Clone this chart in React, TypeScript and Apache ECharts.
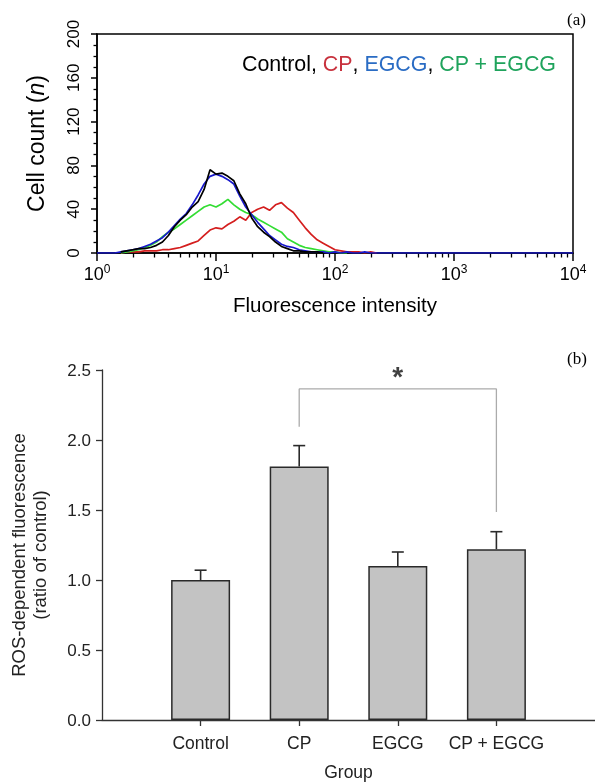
import React, { useEffect, useRef } from "react";
import * as echarts from "echarts";

// ---------- Panel (a): flow cytometry histograms ----------
// channel positions, in decades (log10 of fluorescence intensity)
const HIST_BINS_LOG = [
  0.15, 0.2, 0.25, 0.3, 0.35, 0.4, 0.45, 0.5, 0.55, 0.6,
  0.65, 0.7, 0.75, 0.8, 0.85, 0.9, 0.95, 1.0, 1.05, 1.1,
  1.15, 1.2, 1.25, 1.3, 1.35, 1.4, 1.45, 1.5, 1.55, 1.6,
  1.65, 1.7, 1.75, 1.8, 1.85, 1.9, 1.95, 2.0, 2.05, 2.1,
  2.15, 2.2, 2.25, 2.3, 2.35, 2.4,
];
const CONTROL_COUNTS = [
  null, 1, 2, 3, 4, 4, 5, 7, 10, 16,
  24, 30, 35, 42, 47, 58, 76, 72, 73, 70,
  66, 54, 45, 32, 24, 19, 15, 10, 6, 4,
  2, 2, 1, 1, 1, 0, null, null, null, null,
  null, null, null, null, null, null,
];
const CP_COUNTS = [
  null, 0, 1, 1, 1, 2, 2, 2, 3, 3,
  4, 5, 7, 9, 11, 16, 21, 23, 22, 26,
  29, 33, 30, 37, 40, 42, 39, 44, 46, 41,
  37, 30, 23, 17, 12, 9, 6, 3, 2, 1,
  1, 1, 0, 1, 0, null,
];
const EGCG_COUNTS = [
  0, 1, 2, 3, 4, 6, 8, 11, 14, 19,
  25, 31, 36, 44, 53, 63, 70, 72, 70, 67,
  63, 52, 42, 35, 28, 22, 16, 12, 8, 6,
  5, 3, 2, 1, 1, 1, 0, 1, 0, 1,
  0, 0, 1, 0, 0, 0,
];
const CP_EGCG_COUNTS = [
  null, 0, 1, 2, 3, 5, 7, 10, 15, 19,
  22, 26, 30, 34, 38, 42, 44, 42, 45, 49,
  44, 40, 37, 35, 31, 28, 25, 22, 19, 13,
  10, 7, 5, 4, 3, 2, 1, 1, 0, 0,
  null, null, null, null, null, null,
];
const HIST_BASELINE_RANGE = [0, 4];
const X_DECADES = [0, 1, 2, 3, 4];
const LEGEND_NAMES = ["Control", "CP", "EGCG", "CP + EGCG"];

// ---------- Panel (b): ROS bar chart ----------
const GROUPS = ["Control", "CP", "EGCG", "CP + EGCG"];
const GROUP_POSITIONS = [1, 2, 3, 4];
const ROS_MEANS = [1.0, 1.81, 1.1, 1.22];
const ROS_ERRORS = [0.07, 0.15, 0.1, 0.125];
const ROS_TICK_STEP = 0.5;
const BRACKET_X = [2, 4];
const BRACKET_Y_TOP = 2.365;
const BRACKET_Y_LEFT = 2.095;
const BRACKET_Y_RIGHT = 1.486;
const STAR_POS = [3, 2.48];

const SANS = "'Liberation Sans', Arial, Helvetica, sans-serif";
const SERIF = "'Liberation Serif', 'Times New Roman', serif";

function pairs(bins: number[], counts: (number | null)[]) {
  const out: number[][] = [];
  bins.forEach((b, i) => {
    const c = counts[i];
    if (c !== null && c !== undefined) out.push([b, c]);
  });
  return out;
}

export default function App() {
  const ref = useRef<HTMLDivElement>(null);

  useEffect(() => {
    document.body.style.margin = "0";
    const chart = echarts.init(ref.current!, undefined, { renderer: "svg" });

    const minorLog: number[] = [];
    X_DECADES.slice(0, -1).forEach((d) => {
      for (let k = 2; k <= 9; k++) minorLog.push(d + Math.log10(k));
    });

    const egcgData = [[HIST_BASELINE_RANGE[0], 0], ...pairs(HIST_BINS_LOG, EGCG_COUNTS), [HIST_BASELINE_RANGE[1], 0]];

    const histLine = (name: string, data: number[][], color: string, z: number) => ({
      name,
      type: "line",
      xAxisIndex: 0,
      yAxisIndex: 0,
      data,
      symbol: "none",
      lineStyle: { color, width: 1.7 },
      itemStyle: { color },
      z,
      silent: true,
    });

    const option: any = {
      animation: false,
      grid: [
        { left: 97, top: 34, width: 476, height: 219, show: true, borderColor: "#000", borderWidth: 1.5, backgroundColor: "transparent" },
        { left: 101, top: 370, width: 494, height: 350.7 },
      ],
      xAxis: [
        {
          gridIndex: 0,
          type: "value",
          min: 0,
          max: 4,
          interval: 1,
          axisLine: { show: true, onZero: false, lineStyle: { color: "#000", width: 1.5 } },
          axisTick: { show: true, length: 8, lineStyle: { color: "#000", width: 1.5 } },
          splitLine: { show: false },
          axisLabel: {
            margin: 10,
            formatter: (v: number) => `{b|10}{s|${v}}`,
            rich: {
              b: { fontSize: 18, fontFamily: SANS, color: "#000", lineHeight: 22 },
              s: { fontSize: 12, fontFamily: SANS, color: "#000", lineHeight: 14, verticalAlign: "top" },
            },
          },
          name: "Fluorescence intensity",
          nameLocation: "middle",
          nameGap: 41,
          nameTextStyle: { fontSize: 20.5, fontFamily: SANS, color: "#000" },
        },
        {
          gridIndex: 0,
          type: "value",
          position: "bottom",
          min: 0,
          max: 4,
          axisLine: { show: false },
          axisTick: { show: true, length: 4.5, customValues: minorLog, lineStyle: { color: "#000", width: 1.3 } },
          axisLabel: { show: false },
          splitLine: { show: false },
        },
        {
          gridIndex: 1,
          type: "value",
          min: 0,
          max: 5,
          axisLine: { show: true, onZero: false, lineStyle: { color: "#333", width: 1.3 } },
          axisTick: { show: true, length: 6, customValues: GROUP_POSITIONS, lineStyle: { color: "#333", width: 1.3 } },
          axisLabel: {
            customValues: GROUP_POSITIONS,
            formatter: (v: number) => GROUPS[GROUP_POSITIONS.indexOf(v)] ?? "",
            fontSize: 17.5,
            fontFamily: SANS,
            color: "#222",
            margin: 14,
          },
          splitLine: { show: false },
          name: "Group",
          nameLocation: "middle",
          nameGap: 43,
          nameTextStyle: { fontSize: 17.5, fontFamily: SANS, color: "#222" },
        },
      ],
      yAxis: [
        {
          gridIndex: 0,
          type: "value",
          min: 0,
          max: 200,
          interval: 40,
          axisLine: { show: true, onZero: false, lineStyle: { color: "#000", width: 1.5 } },
          axisTick: { show: true, length: 6, lineStyle: { color: "#000", width: 1.5 } },
          minorTick: { show: true, splitNumber: 4, length: 3.5, lineStyle: { color: "#000", width: 1.3 } },
          splitLine: { show: false },
          minorSplitLine: { show: false },
          axisLabel: { rotate: 90, fontSize: 17, fontFamily: SANS, color: "#000", margin: 15 },
          name: "Cell count ({i|n})",
          nameLocation: "middle",
          nameGap: 50,
          nameTextStyle: {
            fontSize: 23,
            fontFamily: SANS,
            color: "#000",
            rich: { i: { fontSize: 23, fontFamily: SANS, fontStyle: "italic", color: "#000" } },
          },
        },
        {
          gridIndex: 1,
          type: "value",
          min: 0,
          max: 2.5,
          interval: ROS_TICK_STEP,
          axisLine: { show: true, onZero: false, lineStyle: { color: "#333", width: 1.3 } },
          axisTick: { show: true, length: 6, lineStyle: { color: "#333", width: 1.3 } },
          splitLine: { show: false },
          axisLabel: {
            formatter: (v: number) => v.toFixed(1),
            fontSize: 17,
            fontFamily: SANS,
            color: "#222",
            margin: 11,
          },
          name: "ROS-dependent fluorescence\n(ratio of control)",
          nameLocation: "middle",
          nameGap: 52,
          nameTextStyle: { fontSize: 18.5, lineHeight: 21, fontFamily: SANS, color: "#222", padding: [0, 20, 0, 0] },
        },
      ],
      graphic: [
        {
          type: "text",
          left: 242,
          top: 53,
          style: {
            text: `{k|${LEGEND_NAMES[0]}, }{r|${LEGEND_NAMES[1]}}{k|, }{b|${LEGEND_NAMES[2]}}{k|, }{g|${LEGEND_NAMES[3]}}`,
            rich: {
              k: { fill: "#000", fontSize: 21.4, fontFamily: SANS },
              r: { fill: "#c8323e", fontSize: 21.4, fontFamily: SANS },
              b: { fill: "#2a6cc4", fontSize: 21.4, fontFamily: SANS },
              g: { fill: "#1fa35c", fontSize: 21.4, fontFamily: SANS },
            },
          },
        },
        { type: "text", left: 567, top: 11, style: { text: "(a)", fill: "#000", fontSize: 17, fontFamily: SERIF } },
        { type: "text", left: 567, top: 350, style: { text: "(b)", fill: "#000", fontSize: 17, fontFamily: SERIF } },
      ],
      series: [
        histLine("CP", pairs(HIST_BINS_LOG, CP_COUNTS), "#d41e1e", 2),
        histLine("CP + EGCG", pairs(HIST_BINS_LOG, CP_EGCG_COUNTS), "#33dd33", 3),
        histLine("EGCG", egcgData, "#1818cc", 4),
        histLine("Control", pairs(HIST_BINS_LOG, CONTROL_COUNTS), "#000000", 5),
        {
          type: "bar",
          xAxisIndex: 2,
          yAxisIndex: 1,
          barWidth: 59,
          data: GROUP_POSITIONS.map((x, i) => [x, ROS_MEANS[i]]),
          itemStyle: { color: "#c3c3c3", borderColor: "#2a2a2a", borderWidth: 1.5 },
          silent: true,
        },
        {
          type: "custom",
          xAxisIndex: 2,
          yAxisIndex: 1,
          data: GROUP_POSITIONS.map((x, i) => [x, ROS_MEANS[i], ROS_MEANS[i] + ROS_ERRORS[i]]),
          encode: { x: 0, y: [1, 2] },
          renderItem: (params: any, api: any) => {
            const x = api.value(0);
            const p0 = api.coord([x, api.value(1)]);
            const p1 = api.coord([x, api.value(2)]);
            const st = { stroke: "#2a2a2a", lineWidth: 1.6 };
            return {
              type: "group",
              children: [
                { type: "line", shape: { x1: p0[0], y1: p0[1], x2: p1[0], y2: p1[1] }, style: st },
                { type: "line", shape: { x1: p1[0] - 6, y1: p1[1], x2: p1[0] + 6, y2: p1[1] }, style: st },
              ],
            };
          },
          z: 3,
          silent: true,
        },
        {
          type: "line",
          xAxisIndex: 2,
          yAxisIndex: 1,
          data: [
            [BRACKET_X[0], BRACKET_Y_LEFT],
            [BRACKET_X[0], BRACKET_Y_TOP],
            [BRACKET_X[1], BRACKET_Y_TOP],
            [BRACKET_X[1], BRACKET_Y_RIGHT],
          ],
          symbol: "none",
          lineStyle: { color: "#ababab", width: 1.3 },
          silent: true,
        },
        {
          type: "scatter",
          xAxisIndex: 2,
          yAxisIndex: 1,
          data: [STAR_POS],
          symbolSize: 2,
          itemStyle: { color: "rgba(0,0,0,0)" },
          label: {
            show: true,
            position: "inside",
            formatter: "*",
            fontSize: 28,
            fontWeight: "bold",
            fontFamily: SANS,
            color: "#111",
            offset: [0, 4],
          },
          z: 10,
          silent: true,
        },
      ],
    };

    chart.setOption(option);
    return () => chart.dispose();
  }, []);

  return <div ref={ref} style={{ position: "fixed", left: 0, top: 0, width: 595, height: 782 }} />;
}
